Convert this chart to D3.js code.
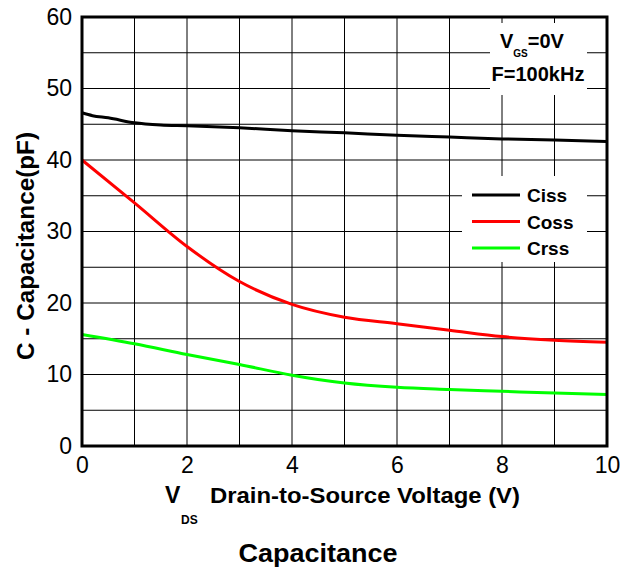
<!DOCTYPE html>
<html>
<head>
<meta charset="utf-8">
<script src="https://cdn.jsdelivr.net/npm/d3@7"></script>
<style>
  body { margin: 0; background: #fff; }
  text { font-family: "Liberation Sans", Arial, sans-serif; }
</style>
</head>
<body>
<svg id="paper" width="620" height="572"></svg>
<script>
// data
const vds = [0, 1, 2, 3, 4, 5, 6, 7, 8, 9, 10];
const cissX = [0, 0.2, 0.5, 1, 1.5, 2, 3, 4, 5, 6, 7, 8, 9, 10];
const ciss = [46.6, 46.2, 45.9, 45.2, 44.9, 44.8, 44.5, 44.1, 43.8, 43.45, 43.2, 42.95, 42.8, 42.6];
const coss = [40, 34, 27.9, 23, 19.8, 18, 17.1, 16.2, 15.3, 14.8, 14.5];
const crss = [15.6, 14.3, 12.8, 11.4, 9.9, 8.8, 8.2, 7.9, 7.65, 7.4, 7.2];
const seriesNames = ["Ciss", "Coss", "Crss"];
const seriesColors = ["#000000", "#ff0000", "#00ff00"];
const xTicks = [0, 2, 4, 6, 8, 10];
const yTicks = [0, 10, 20, 30, 40, 50, 60];

// set the dimensions and margins of the diagram
var margin = {top: 17, right: 13, bottom: 126, left: 82},
    width = 620 - margin.left - margin.right,
    height = 572 - margin.top - margin.bottom;

var svg = d3.select("#paper"),
    g = svg.append("g")
        .attr("transform", "translate(" + margin.left + "," + margin.top + ")");

var x = d3.scaleLinear().domain([0, 10]).range([0, width]);
var y = d3.scaleLinear().domain([0, 60]).range([height, 0]);

// grid lines
g.append("g")
    .selectAll("line")
    .data(d3.range(1, 10))
    .enter().append("line")
    .attr("x1", d => x(d)).attr("x2", d => x(d))
    .attr("y1", 0).attr("y2", height)
    .attr("stroke", "#000").attr("stroke-width", 1);

g.append("g")
    .selectAll("line")
    .data(d3.range(5, 60, 5))
    .enter().append("line")
    .attr("x1", 0).attr("x2", width)
    .attr("y1", d => y(d)).attr("y2", d => y(d))
    .attr("stroke", "#000").attr("stroke-width", 1);

// white boxes behind annotation and legend
g.append("rect")
    .attr("x", 490 - margin.left).attr("y", 23 - margin.top)
    .attr("width", 97).attr("height", 72)
    .attr("fill", "#fff");
g.append("rect")
    .attr("x", 462 - margin.left).attr("y", 176 - margin.top)
    .attr("width", 125).attr("height", 86)
    .attr("fill", "#fff");

// curves
var line = d3.line()
    .x(d => x(d[0]))
    .y(d => y(d[1]))
    .curve(d3.curveMonotoneX);

var series = [
    cissX.map((v, i) => [v, ciss[i]]),
    vds.map((v, i) => [v, coss[i]]),
    vds.map((v, i) => [v, crss[i]])
];

g.selectAll(".curve")
    .data(series)
    .enter().append("path")
    .attr("class", "curve")
    .attr("d", line)
    .attr("fill", "none")
    .attr("stroke", (d, i) => seriesColors[i])
    .attr("stroke-width", 3);

// frame
g.append("rect")
    .attr("x", 0).attr("y", 0)
    .attr("width", width).attr("height", height)
    .attr("fill", "none")
    .attr("stroke", "#000")
    .attr("stroke-width", 3);

// axes
var xAxis = g.append("g")
    .attr("transform", "translate(0," + height + ")")
    .call(d3.axisBottom(x).tickValues(xTicks).tickSize(0).tickPadding(11));
var yAxis = g.append("g")
    .call(d3.axisLeft(y).tickValues(yTicks).tickSize(0).tickPadding(10));
[xAxis, yAxis].forEach(a => {
    a.select(".domain").remove();
    a.selectAll("text")
        .attr("font-family", "Liberation Sans, Arial, sans-serif")
        .attr("font-size", 23)
        .attr("fill", "#000");
});

// annotation
var ann = g.append("text")
    .attr("x", 500 - margin.left).attr("y", 48 - margin.top)
    .attr("font-size", 20).attr("font-weight", "bold");
ann.append("tspan").text("V");
ann.append("tspan").attr("font-size", 10).attr("dy", 9).text("GS");
ann.append("tspan").attr("dy", -9).text("=0V");
g.append("text")
    .attr("x", 538 - margin.left).attr("y", 81 - margin.top)
    .attr("text-anchor", "middle")
    .attr("font-size", 20).attr("font-weight", "bold")
    .text("F=100kHz");

// legend
var legend = g.selectAll(".legend")
    .data(seriesNames)
    .enter().append("g")
    .attr("class", "legend")
    .attr("transform", (d, i) => "translate(" + (472 - margin.left) + "," + (195 + i * 26.5 - margin.top) + ")");
legend.append("line")
    .attr("x1", 0).attr("x2", 48)
    .attr("stroke", (d, i) => seriesColors[i])
    .attr("stroke-width", 3);
legend.append("text")
    .attr("x", 55).attr("y", 7)
    .attr("font-size", 19).attr("font-weight", "bold")
    .text(d => d);

// axis titles
svg.append("text")
    .attr("x", 165).attr("y", 503)
    .attr("font-size", 23).attr("font-weight", "bold")
    .text("V");
svg.append("text")
    .attr("x", 181).attr("y", 524)
    .attr("font-size", 12).attr("font-weight", "bold")
    .text("DS");
svg.append("text")
    .attr("x", 210).attr("y", 503)
    .attr("font-size", 22).attr("font-weight", "bold")
    .attr("textLength", 310).attr("lengthAdjust", "spacingAndGlyphs")
    .text("Drain-to-Source Voltage (V)");

svg.append("text")
    .attr("transform", "translate(34,246) rotate(-90)")
    .attr("text-anchor", "middle")
    .attr("font-size", 23).attr("font-weight", "bold")
    .attr("textLength", 228).attr("lengthAdjust", "spacingAndGlyphs")
    .text("C - Capacitance(pF)");

svg.append("text")
    .attr("x", 318).attr("y", 562)
    .attr("text-anchor", "middle")
    .attr("font-size", 26).attr("font-weight", "bold")
    .attr("textLength", 159).attr("lengthAdjust", "spacingAndGlyphs")
    .text("Capacitance");
</script>
</body>
</html>
